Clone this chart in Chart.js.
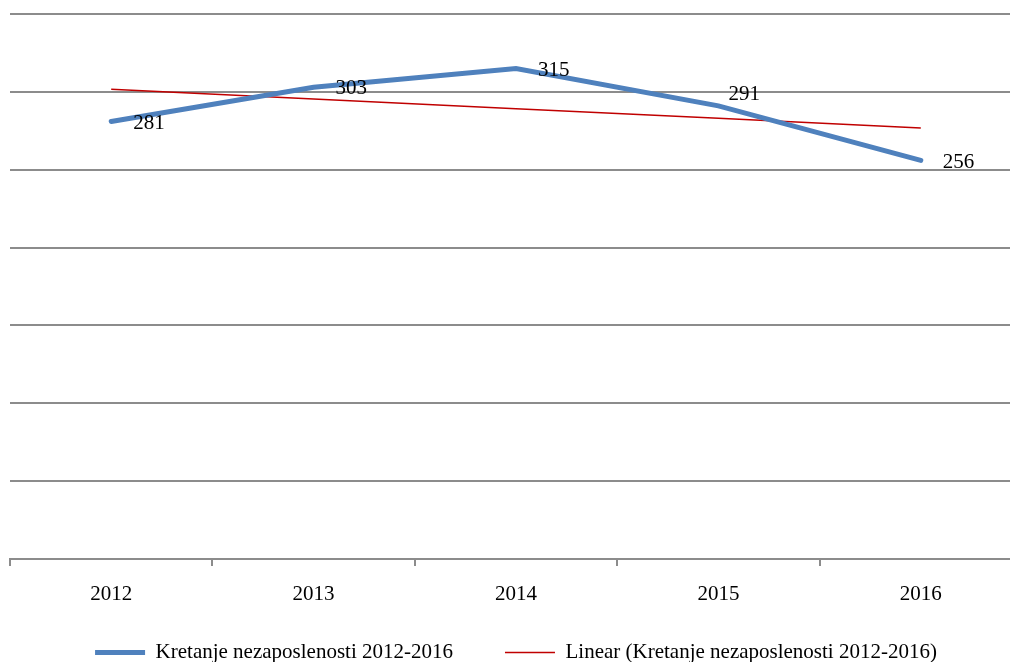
<!DOCTYPE html>
<html>
<head>
<meta charset="utf-8">
<script src="https://cdn.jsdelivr.net/npm/chart.js@4.4.1/dist/chart.umd.min.js"></script>
<style>
  html, body { margin: 0; padding: 0; background: #fff; overflow: hidden; }
  #wrap { width: 1010px; height: 662px; overflow: hidden; position: relative; }
  #chart { position: absolute; left: 0; top: 0; }
</style>
</head>
<body>
<div id="wrap"><canvas id="chart" width="1040" height="673"></canvas></div>
<script>
// values
const years = ['2012', '2013', '2014', '2015', '2016'];
const unemployment = [281, 303, 315, 291, 256];
const trendLine = [301.6, 295.4, 289.2, 283.0, 276.8];
const seriesName = 'Kretanje nezaposlenosti 2012-2016';
const trendName = 'Linear (Kretanje nezaposlenosti 2012-2016)';

const FONT = 'Liberation Serif';
const GRID = '#8c8c8c';

// value labels to the right of each point
const valueLabels = {
    id: 'valueLabels',
    afterDatasetsDraw(chart) {
        const meta = chart.getDatasetMeta(0);
        const shift = [[22, 2], [22, 1], [22, 2], [10, -11], [22, 2]];
        const ctx = chart.ctx;
        ctx.save();
        ctx.font = '21px "' + FONT + '"';
        ctx.fillStyle = '#000';
        ctx.textAlign = 'left';
        ctx.textBaseline = 'middle';
        meta.data.forEach((pt, i) => {
            ctx.fillText(String(unemployment[i]), pt.x + shift[i][0], pt.y + shift[i][1]);
        });
        ctx.restore();
    }
};

new Chart(document.getElementById('chart'), {
    type: 'line',
    data: {
        labels: years,
        datasets: [
            {
                label: seriesName,
                data: unemployment,
                borderColor: '#4f81bd',
                backgroundColor: '#4f81bd',
                borderWidth: 5,
                borderCapStyle: 'round',
                borderJoinStyle: 'miter',
                pointRadius: 0,
                tension: 0
            },
            {
                label: trendName,
                data: trendLine,
                borderColor: '#c00000',
                backgroundColor: '#c00000',
                borderWidth: 1.5,
                pointRadius: 0,
                tension: 0
            }
        ]
    },
    options: {
        responsive: false,
        animation: false,
        layout: { padding: { left: 10, right: 18, top: 14, bottom: 0 } },
        plugins: {
            tooltip: { enabled: false },
            legend: {
                position: 'bottom',
                labels: {
                    usePointStyle: true,
                    pointStyle: 'line',
                    pointStyleWidth: 50,
                    padding: 52,
                    color: '#000',
                    font: { family: FONT, size: 21 }
                }
            }
        },
        scales: {
            x: {
                offset: true,
                // fixed axis height so the legend sits close under the year labels
                afterFit: (scale) => { scale.height = 31; },
                grid: {
                    offset: true,
                    drawOnChartArea: false,
                    drawTicks: true,
                    tickLength: 7,
                    color: GRID,
                    lineWidth: 2
                },
                border: { display: true, color: GRID, width: 2 },
                ticks: {
                    color: '#000',
                    mirror: true,
                    padding: -37,
                    maxRotation: 0,
                    font: { family: FONT, size: 21, lineHeight: 0.1 }
                }
            },
            y: {
                min: 0,
                max: 350,
                ticks: { display: false, stepSize: 50 },
                grid: { color: GRID, lineWidth: 2, drawTicks: false },
                border: { display: false }
            }
        }
    },
    plugins: [valueLabels]
});
</script>
</body>
</html>
